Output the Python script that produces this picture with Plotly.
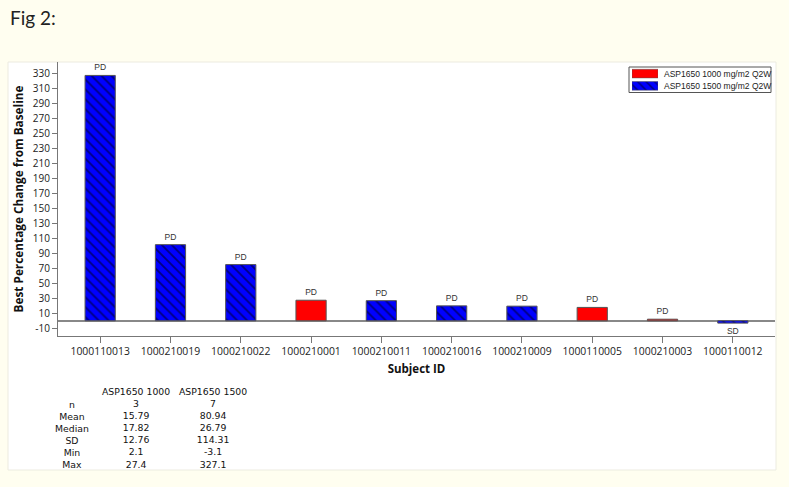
import plotly.graph_objects as go

# ---------------- data ----------------
subjects = ["1000110013", "1000210019", "1000210022", "1000210001", "1000210011",
            "1000210016", "1000210009", "1000110005", "1000210003", "1000110012"]
groups = ["1500", "1500", "1500", "1000", "1500", "1500", "1500", "1000", "1000", "1500"]
pct_change = [327.1, 101.5, 74.9, 27.4, 26.79, 19.9, 19.5, 17.82, 2.1, -3.1]
response = ["PD", "PD", "PD", "PD", "PD", "PD", "PD", "PD", "PD", "SD"]

y_tick_vals = list(range(-10, 331, 20))
y_tick_text = [str(v) for v in y_tick_vals]

stat_labels = ["n", "Mean", "Median", "SD", "Min", "Max"]
stat_header = ["ASP1650 1000", "ASP1650 1500"]
stats_1000 = ["3", "15.79", "17.82", "12.76", "2.1", "27.4"]
stats_1500 = ["7", "80.94", "26.79", "114.31", "-3.1", "327.1"]

group_keys = ["1000", "1500"]
legend_names = ["ASP1650 1000 mg/m2 Q2W", "ASP1650 1500 mg/m2 Q2W"]
group_colors = ["#ff0000", "#0000ff"]
group_patterns = ["", "\\"]

# ---------------- layout geometry (pixels) ----------------
W, H = 789, 487
L, R, T, B = 58, 775, 62, 336


def px_x(p):
    return (p - L) / (R - L)


def px_y(p):
    return (B - p) / (B - T)


fig = go.Figure()

for g, color, pattern in zip(group_keys, group_colors, group_patterns):
    xs = [s for s, gg in zip(subjects, groups) if gg == g]
    ys = [v for v, gg in zip(pct_change, groups) if gg == g]
    ts = [r for r, gg in zip(response, groups) if gg == g]
    fig.add_trace(go.Bar(
        x=xs, y=ys, text=ts, showlegend=False,
        textposition="outside", cliponaxis=False,
        textfont=dict(size=8.5, color="#333", family="Liberation Sans, Arial"),
        width=0.43,
        marker=dict(color=color,
                    line=dict(color="#555555", width=1),
                    pattern=dict(shape=pattern, fgcolor="#000000", size=7, solidity=0.25)),
    ))

# legend swatches drawn as bars on a tiny inset axis
for i, (color, pattern) in enumerate(zip(group_colors, group_patterns)):
    fig.add_trace(go.Bar(
        x=[1], y=[i], orientation="h", xaxis="x2", yaxis="y2", width=0.7,
        showlegend=False, hoverinfo="skip",
        marker=dict(color=color, line=dict(color="#555555", width=0.5),
                    pattern=dict(shape=pattern, fgcolor="#000000", size=6, solidity=0.25)),
    ))

annotations = []
annotations.append(dict(text="Fig 2:", x=px_x(8), y=px_y(17), xref="paper", yref="paper",
                        xanchor="left", yanchor="middle", showarrow=False,
                        font=dict(family="Lato, Open Sans", size=19, color="#222")))

for name, yy in zip(legend_names, [73.5, 85.5]):
    annotations.append(dict(text=name, x=px_x(662), y=px_y(yy), xref="paper", yref="paper",
                            xanchor="left", yanchor="middle", showarrow=False,
                            font=dict(family="Liberation Sans, Arial", size=8.5, color="#222")))

font_tbl = dict(family="DejaVu Sans", size=9.3, color="#111")


def tbl(lines, x, y_center):
    annotations.append(dict(text="<br>".join(lines), x=px_x(x), y=px_y(y_center),
                            xref="paper", yref="paper", align="center",
                            xanchor="center", yanchor="middle", showarrow=False,
                            font=font_tbl))


tbl(stat_labels, 72, 434)
tbl([stat_header[0]] + stats_1000, 136, 428.5)
tbl([stat_header[1]] + stats_1500, 213, 428.5)

shapes = [
    dict(type="rect", xref="paper", yref="paper", layer="below",
         x0=px_x(8), x1=px_x(776), y0=px_y(470), y1=px_y(62),
         fillcolor="white", line=dict(color="#ecebe0", width=1)),
    dict(type="rect", xref="paper", yref="paper", layer="above",
         x0=px_x(629), x1=px_x(771), y0=px_y(92.5), y1=px_y(67),
         fillcolor="rgba(0,0,0,0)", line=dict(color="#555", width=1)),
]

fig.update_layout(
    width=W, height=H,
    margin=dict(l=L, r=W - R, t=T, b=H - B, autoexpand=False),
    paper_bgcolor="#fffef0", plot_bgcolor="rgba(0,0,0,0)",
    barmode="overlay", showlegend=False,
    font=dict(family="Open Sans, DejaVu Sans", color="#222"),
    xaxis=dict(type="category", categoryorder="array", categoryarray=subjects,
               range=[-0.6, 9.6], showline=True, linecolor="#777", linewidth=1,
               ticks="outside", ticklen=6, tickcolor="#777", showgrid=False,
               tickfont=dict(size=10.4, color="#222"),
               title=dict(text="<b>Subject ID</b>", font=dict(size=11.5, color="#111"), standoff=7)),
    yaxis=dict(range=[-20.3, 345], tickvals=y_tick_vals, ticktext=y_tick_text,
               showline=True, linecolor="#777", linewidth=1, ticks="outside", ticklen=5,
               tickcolor="#777", showgrid=False, zeroline=True, zerolinecolor="#888",
               zerolinewidth=1.5, tickfont=dict(size=10, color="#222"),
               title=dict(text="<b>Best Percentage Change from Baseline</b>",
                          font=dict(size=11.8, color="#111"), standoff=6)),
    xaxis2=dict(domain=[px_x(632), px_x(658)], range=[0, 1], anchor="y2",
                visible=False, fixedrange=True),
    yaxis2=dict(domain=[px_y(92), px_y(67.5)], range=[1.5, -0.5], anchor="x2",
                visible=False, fixedrange=True),
    annotations=annotations, shapes=shapes,
)

fig.write_html(
    "out.html",
    config={"displayModeBar": False},
    post_script="document.body.style.margin='0';document.body.style.background='#fffef0';",
)
